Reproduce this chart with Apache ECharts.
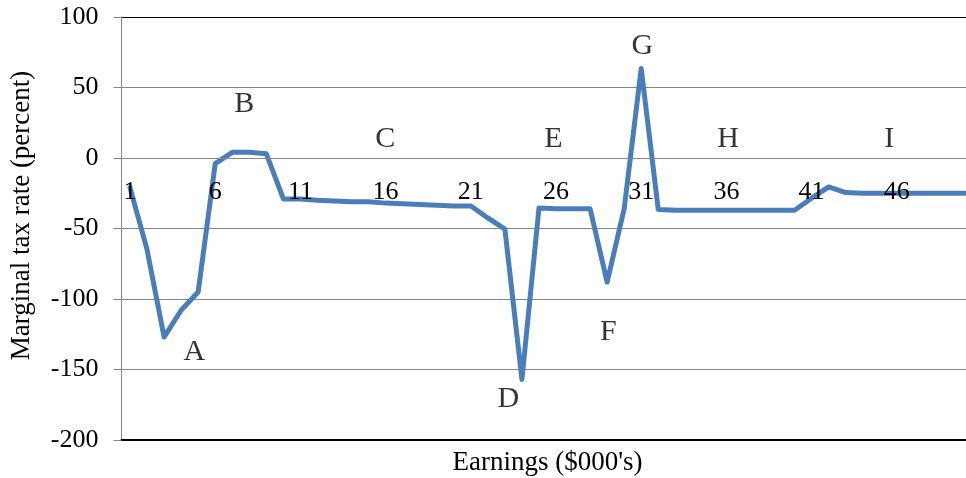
<!DOCTYPE html>
<html>
<head>
<meta charset="utf-8">
<script src="https://cdn.jsdelivr.net/npm/echarts@6/dist/echarts.min.js"></script>
<style>html,body{margin:0;padding:0;background:#fff;overflow:hidden}#c{width:980px;height:478px}</style>
</head>
<body>
<div id="c"></div>
<script>
var categories = ['1','2','3','4','5','6','7','8','9','10','11','12','13','14','15','16','17','18','19','20','21','22','23','24','25','26','27','28','29','30','31','32','33','34','35','36','37','38','39','40','41','42','43','44','45','46','47','48','49','50'];
var rate = [-21,-65,-127,-108,-95,-4,4,4,3,-29,
            -29,-30,-30.5,-31,-31,-32,-32.5,-33,-33.5,-34,
            -34,-42.5,-50.5,-157,-35.5,-36,-36,-36,-88,-36,
            63.5,-36.5,-37,-37,-37,-37,-37,-37,-37,-37,
            -28.5,-20.5,-24.5,-25,-25,-25,-25,-25,-25,-25];
var letters = ['A','B','C','D','E','F','G','H','I'];
var letterX = [4.77, 7.71, 15.98, 23.2, 25.84, 29.07, 31.06, 36.1, 45.55];
var letterY = [-137.6, 38.3, 13.5, -171, 13.5, -123.4, 79.4, 13.5, 13.5];
var yTicks = {min: -200, max: 100, interval: 50};

var FONT = '"Liberation Serif", "Times New Roman", serif';
var annot = letters.map(function (l, i) { return {value: [letterX[i], letterY[i]], name: l}; });

var chart = echarts.init(document.getElementById('c'), null, {renderer: 'canvas'});
chart.setOption({
  animation: false,
  backgroundColor: '#fff',
  grid: {left: 121.5, top: 17, height: 423, width: 852, containLabel: false, outerBoundsMode: 'none'},
  xAxis: [{
    type: 'category',
    data: categories,
    boundaryGap: true,
    position: 'bottom',
    offset: -282,
    z: 5,
    axisLine: {onZero: false, lineStyle: {color: '#868686', width: 1}},
    axisTick: {show: false},
    axisLabel: {interval: 4, margin: 21, color: '#000', fontFamily: FONT, fontSize: 26},
    splitLine: {show: false}
  }, {
    type: 'value',
    min: 0.5, max: 50.5,
    position: 'bottom',
    axisLine: {show: true, onZero: false, lineStyle: {color: '#000', width: 2}},
    axisTick: {show: false},
    axisLabel: {show: false},
    splitLine: {show: false},
    name: "Earnings ($000's)",
    nameLocation: 'middle',
    nameGap: 9,
    nameTextStyle: {color: '#000', fontFamily: FONT, fontSize: 27, verticalAlign: 'top'}
  }],
  yAxis: {
    type: 'value',
    min: yTicks.min, max: yTicks.max, interval: yTicks.interval,
    axisLine: {show: true, onZero: false, lineStyle: {color: '#868686', width: 1}},
    axisTick: {show: true, length: 8, lineStyle: {color: '#868686'}},
    axisLabel: {margin: 23, color: '#000', fontFamily: FONT, fontSize: 26},
    splitLine: {show: true, lineStyle: {color: ['#000', '#868686', '#868686', '#868686', '#868686', '#868686', '#000'], width: 1.2}},
    name: 'Marginal tax rate (percent)',
    nameLocation: 'middle',
    nameGap: 86,
    nameTextStyle: {color: '#000', fontFamily: FONT, fontSize: 27, padding: [0, 0, 0, 26]}
  },
  series: [{
    type: 'line',
    xAxisIndex: 0,
    data: rate,
    showSymbol: false,
    symbol: 'none',
    lineStyle: {color: '#4A7EBB', width: 5, join: 'round', cap: 'round'},
    z: 3
  }, {
    type: 'scatter',
    xAxisIndex: 1,
    data: annot,
    symbolSize: 1,
    itemStyle: {color: 'rgba(0,0,0,0)'},
    label: {show: true, position: 'inside', formatter: '{b}', color: '#000', fontFamily: FONT, fontSize: 30},
    z: 4
  }]
});
</script>
</body>
</html>
